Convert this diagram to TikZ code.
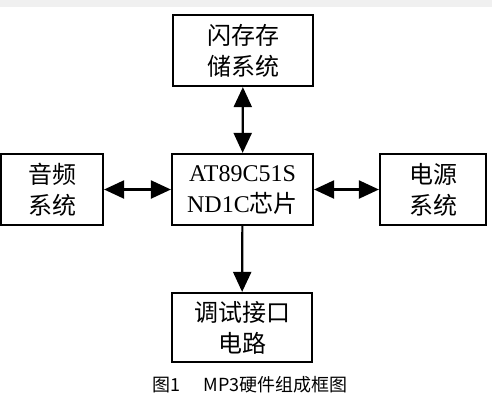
\documentclass[tikz,border=0pt]{standalone}
\usepackage{fontspec}
\setmainfont{Liberation Serif}
\newfontfamily\cjk{Noto Sans CJK SC}
\usetikzlibrary{arrows.meta}
\tikzset{
	blk/.style={draw,line width=2.2pt,align=center,font=\fontsize{24}{31}\selectfont,inner sep=0pt},
	link/.style={line width=2.2pt}
}
\begin{document}
\begin{tikzpicture}[x=1pt,y=-1pt,>={Triangle[width=18pt,length=20pt]},line join=miter]
	\useasboundingbox (0,0) rectangle (492,402);
	\fill[gray!12] (0,0) rectangle (492,7);
	% boxes
	\node[blk,minimum width=140pt,minimum height=71pt] (flash) at (243,50.5) {\cjk 闪存存\\ \cjk 储系统};
	\node[blk,minimum width=141pt,minimum height=71pt] (mcu) at (242.5,189.5) {AT89C51S\\ ND1C{\cjk 芯片}};
	\node[blk,minimum width=102pt,minimum height=71pt] (audio) at (52,189.5) {\cjk 音频\\ \cjk 系统};
	\node[blk,minimum width=106pt,minimum height=71pt] (power) at (433,189.5) {\cjk 电源\\ \cjk 系统};
	\node[blk,minimum width=140pt,minimum height=69pt] (debug) at (242,327.5) {\cjk 调试接口\\ \cjk 电路};
	\node[font=\cjk\fontsize{18}{20}\selectfont] (caption) at (250,385) {图1\hspace{1.3em}MP3硬件组成框图};
	% connectors
	\draw[link,<->] (flash) -- (mcu);
	\draw[link,<->] (audio) -- (mcu);
	\draw[link,<->] (mcu) -- (power);
	\draw[link,->] (mcu) -- (debug);
\end{tikzpicture}
\end{document}
